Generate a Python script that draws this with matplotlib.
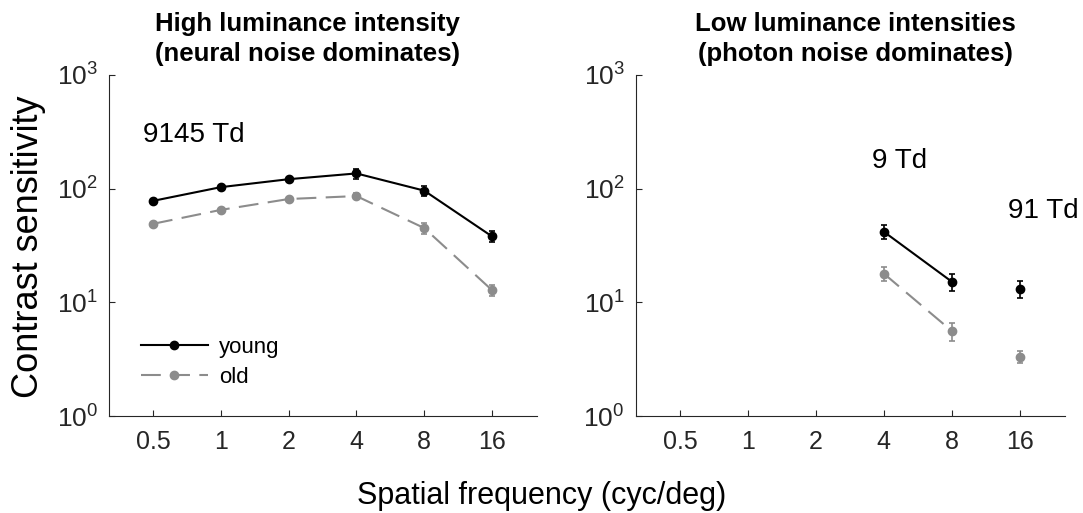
import numpy as np
import matplotlib
matplotlib.use("Agg")
import matplotlib.pyplot as plt
from matplotlib.lines import Line2D
from matplotlib.ticker import FixedLocator, NullLocator, FixedFormatter

plt.rcParams['font.family'] = ['Liberation Sans', 'DejaVu Sans']
plt.rcParams['mathtext.default'] = 'regular'

freqs = [0.5, 1, 2, 4, 8, 16]
freq_labels = ["0.5", "1", "2", "4", "8", "16"]

# high luminance (9145 Td)
young_high = [78, 103, 121, 136, 96, 38]
young_high_err = [3, 4, 5, 14, 10, 4]
old_high = [49, 65, 81, 86, 45, 12.8]
old_high_err = [2, 3, 4, 5, 5, 1.5]

# low luminance: 9 Td at 4 and 8, 91 Td at 16
low_freqs = [4, 8]
young_9td = [41.8, 15.2]
young_9td_err = [6, 2.5]
old_9td = [17.9, 5.6]
old_9td_err = [2.5, 1.0]
young_91td = 13.2
young_91td_err = 2.3
old_91td = 3.3
old_91td_err = 0.4

black = 'black'
grey = '#8c8c8c'
axcol = '#262626'
dash = (0, (9.5, 4.5))

fig = plt.figure(figsize=(10.83, 5.13), dpi=100)
ax1 = fig.add_axes([0.1006, 0.189, 0.395, 0.665])
ax2 = fig.add_axes([0.587, 0.189, 0.396, 0.665])

def style(ax):
    ax.set_xscale('log')
    ax.set_yscale('log')
    ax.set_xlim(0.5 / 2**0.65, 16 * 2**0.66)
    ax.set_ylim(1, 1000)
    ax.xaxis.set_major_locator(FixedLocator(freqs))
    ax.xaxis.set_major_formatter(FixedFormatter(freq_labels))
    ax.xaxis.set_minor_locator(NullLocator())
    ax.yaxis.set_major_locator(FixedLocator([1, 10, 100, 1000]))
    ax.yaxis.set_minor_locator(NullLocator())
    ax.spines['top'].set_visible(False)
    ax.spines['right'].set_visible(False)
    for s in ['left', 'bottom']:
        ax.spines[s].set_color(axcol)
        ax.spines[s].set_linewidth(0.8)
    ax.tick_params(direction='in', length=4, width=0.8, colors=axcol,
                   labelsize=18, labelcolor=axcol)
    ax.tick_params(axis='x', pad=10)
    ax.tick_params(axis='y', pad=8, labelsize=19)

style(ax1)
style(ax2)

mk = dict(marker='o', markersize=6, capsize=2, elinewidth=1.2, capthick=1.2)

ax1.errorbar(freqs, young_high, yerr=young_high_err, color=black, lw=1.5, **mk)
ax1.errorbar(freqs, old_high, yerr=old_high_err, color=grey, lw=1.5, ls=dash, **mk)

ax2.errorbar(low_freqs, young_9td, yerr=young_9td_err, color=black, lw=1.5, **mk)
ax2.errorbar(low_freqs, old_9td, yerr=old_9td_err, color=grey, lw=1.5, ls=dash, **mk)
ax2.errorbar([16], [young_91td], yerr=[young_91td_err], color=black, ls='none', **mk)
ax2.errorbar([16], [old_91td], yerr=[old_91td_err], color=grey, ls='none', **mk)

handles = [Line2D([], [], color=black, lw=1.5, marker='o', markersize=6),
           Line2D([], [], color=grey, lw=1.5, ls=dash, marker='o', markersize=6)]
ax1.legend(handles, ['young', 'old'], loc='lower left',
           bbox_to_anchor=(0.028, 0.025), frameon=False, fontsize=16,
           handlelength=3.0, handletextpad=0.5, labelspacing=0.4)

ax1.text(0.5 / 2**0.15, 10**2.47, "9145 Td", fontsize=20, va='center', ha='left')
ax2.text(3.55, 10**2.24, "9 Td", fontsize=20, va='center', ha='left')
ax2.text(14.2, 10**1.8, "91 Td", fontsize=20, va='center', ha='left')

ax1.set_title("High luminance intensity\n(neural noise dominates)",
              fontsize=18.5, fontweight='bold', x=0.465, pad=10, linespacing=1.3)
ax2.set_title("Low luminance intensities\n(photon noise dominates)",
              fontsize=18.5, fontweight='bold', x=0.513, pad=10, linespacing=1.3)

fig.text(0.026, 0.52, "Contrast sensitivity", rotation=90, fontsize=26,
         ha='center', va='center')
fig.text(0.5, 0.018, "Spatial frequency (cyc/deg)", fontsize=22,
         ha='center', va='baseline')

fig.savefig("out.png", dpi=100)
